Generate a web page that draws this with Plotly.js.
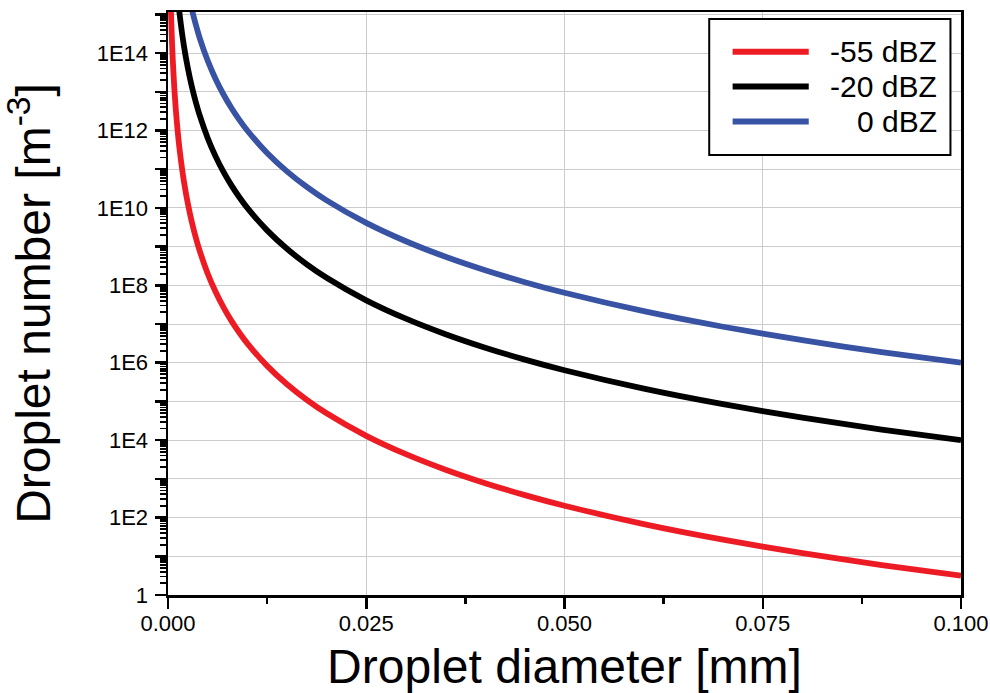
<!DOCTYPE html>
<html>
<head>
<meta charset="utf-8">
<script src="https://cdn.plot.ly/plotly-3.0.1.min.js"></script>
<style>
  html, body { margin: 0; padding: 0; background: #ffffff; }
  #chart { width: 990px; height: 693px; }
</style>
</head>
<body>
<div id="chart"></div>
<script>
// Droplet diameter [mm]
const diameter = [0.00035, 0.0004, 0.0005, 0.0006, 0.0008, 0.001, 0.0012, 0.0015, 0.002, 0.0025,
  0.003, 0.0035, 0.004, 0.005, 0.006, 0.007, 0.008, 0.009, 0.01, 0.0125,
  0.015, 0.0175, 0.02, 0.025, 0.03, 0.035, 0.04, 0.045, 0.05, 0.06,
  0.07, 0.08, 0.09, 0.1];

// Droplet number [m^-3]
const red55 = [1.72e15, 7.72e14, 2.024e14, 6.776e13, 1.206e13, 3.162e12, 1.059e12, 2.776e11, 4.941e10, 1.295e10,
  4.338e9, 1.72e9, 7.72e8, 2.024e8, 6.776e7, 2.688e7, 1.206e7, 5.951e6, 3.162e6, 8.288e5,
  2.776e5, 1.101e5, 4.941e4, 1.295e4, 4338, 1720, 772, 380.7, 202.4, 67.76,
  26.88, 12.06, 5.951, 3.162];

const black20 = [5.44e18, 2.441e18, 6.4e17, 2.143e17, 3.815e16, 1e16, 3.349e15, 8.779e14, 1.5625e14, 4.096e13,
  1.372e13, 5.44e12, 2.441e12, 6.4e11, 2.143e11, 8.5e10, 3.815e10, 1.882e10, 1e10, 2.621e9,
  8.779e8, 3.482e8, 1.5625e8, 4.096e7, 1.372e7, 5.44e6, 2.441e6, 1.204e6, 6.4e5, 2.143e5,
  8.5e4, 3.815e4, 1.882e4, 1e4];

const blue0 = [5.44e20, 2.441e20, 6.4e19, 2.143e19, 3.815e18, 1e18, 3.349e17, 8.779e16, 1.5625e16, 4.096e15,
  1.372e15, 5.44e14, 2.441e14, 6.4e13, 2.143e13, 8.5e12, 3.815e12, 1.882e12, 1e12, 2.621e11,
  8.779e10, 3.482e10, 1.5625e10, 4.096e9, 1.372e9, 5.44e8, 2.441e8, 1.204e8, 6.4e7, 2.143e7,
  8.5e6, 3.815e6, 1.882e6, 1e6];

const seriesNames = ['-55 dBZ', '-20 dBZ', '0 dBZ'];
const seriesColors = ['#ED1C24', '#000000', '#3953A4'];

// Axis tick labels
const xTickVals = [0, 0.025, 0.05, 0.075, 0.1];
const xTickText = ['0.000', '0.025', '0.050', '0.075', '0.100'];
const yTickVals = [1, 1e1, 1e2, 1e3, 1e4, 1e5, 1e6, 1e7, 1e8, 1e9, 1e10, 1e11, 1e12, 1e13, 1e14, 1e15];
const yTickText = ['1', '', '1E2', '', '1E4', '', '1E6', '', '1E8', '', '1E10', '', '1E12', '', '1E14', ''];

const yMinor = [];
for (let k = 0; k < 15; k++) {
  for (let m = 2; m <= 9; m++) yMinor.push(m * Math.pow(10, k));
}

const FONT = 'Liberation Sans, Arial, Helvetica, sans-serif';
const allY = [red55, black20, blue0];

const traces = allY.map((ys, i) => ({
  type: 'scatter',
  mode: 'lines',
  x: diameter,
  y: ys,
  name: seriesNames[i],
  line: { color: seriesColors[i], width: 5.8, shape: 'spline', smoothing: 0.6 },
  showlegend: false,
  hoverinfo: 'x+y+name'
}));

// custom legend (box + long line samples + right-aligned labels)
const legRowsY = [0.932, 0.872, 0.812];
const shapes = [{
  type: 'rect', xref: 'paper', yref: 'paper',
  x0: 0.6825, x1: 0.9867, y0: 0.7547, y1: 0.988,
  line: { color: '#000000', width: 2 }, fillcolor: '#ffffff', layer: 'above'
}];
const annotations = [];
seriesNames.forEach((nm, i) => {
  shapes.push({
    type: 'line', xref: 'paper', yref: 'paper',
    x0: 0.712, x1: 0.808, y0: legRowsY[i], y1: legRowsY[i],
    line: { color: seriesColors[i], width: 6 }, layer: 'above'
  });
  annotations.push({
    xref: 'paper', yref: 'paper', x: 0.972, y: legRowsY[i],
    xanchor: 'right', yanchor: 'middle', showarrow: false,
    text: nm, font: { family: FONT, size: 30, color: '#000000' }
  });
});

const layout = {
  width: 990, height: 693,
  margin: { l: 168, r: 29, t: 12, b: 98 },
  paper_bgcolor: '#ffffff', plot_bgcolor: '#ffffff',
  font: { family: FONT, color: '#000000' },
  showlegend: false,
  xaxis: {
    range: [0, 0.1],
    tickmode: 'array', tickvals: xTickVals, ticktext: xTickText,
    ticks: 'outside', ticklen: 11, tickwidth: 2.5, tickcolor: '#000000',
    ticklabelstandoff: -4,
    tickfont: { family: FONT, size: 22, color: '#000000' },
    showline: true, linewidth: 2.5, linecolor: '#000000', mirror: true,
    showgrid: true, gridcolor: '#cccccc', gridwidth: 1,
    zeroline: false,
    minor: { tickmode: 'array', tickvals: [0.0125, 0.0375, 0.0625, 0.0875], ticks: 'outside', ticklen: 6, tickwidth: 2.5, tickcolor: '#000000', showgrid: false },
    title: { text: 'Droplet diameter [mm]', font: { family: FONT, size: 48, color: '#000000' } }
  },
  yaxis: {
    type: 'log',
    range: [0, 15.06],
    automargin: true,
    tickmode: 'array', tickvals: yTickVals, ticktext: yTickText,
    ticks: 'outside', ticklen: 11, tickwidth: 2.5, tickcolor: '#000000',
    ticklabelstandoff: 2,
    tickfont: { family: FONT, size: 22, color: '#000000' },
    showline: true, linewidth: 2.5, linecolor: '#000000', mirror: true,
    showgrid: true, gridcolor: '#cccccc', gridwidth: 1,
    zeroline: false,
    minor: { tickmode: 'array', tickvals: yMinor, ticks: 'outside', ticklen: 6, tickwidth: 1.8, tickcolor: '#000000', showgrid: false },
    title: { text: 'Droplet number [m<sup>-3</sup>]', standoff: 38, font: { family: FONT, size: 48, color: '#000000' } }
  },
  shapes: shapes,
  annotations: annotations
};

Plotly.newPlot('chart', traces, layout, { displayModeBar: false, staticPlot: true });
</script>
</body>
</html>
